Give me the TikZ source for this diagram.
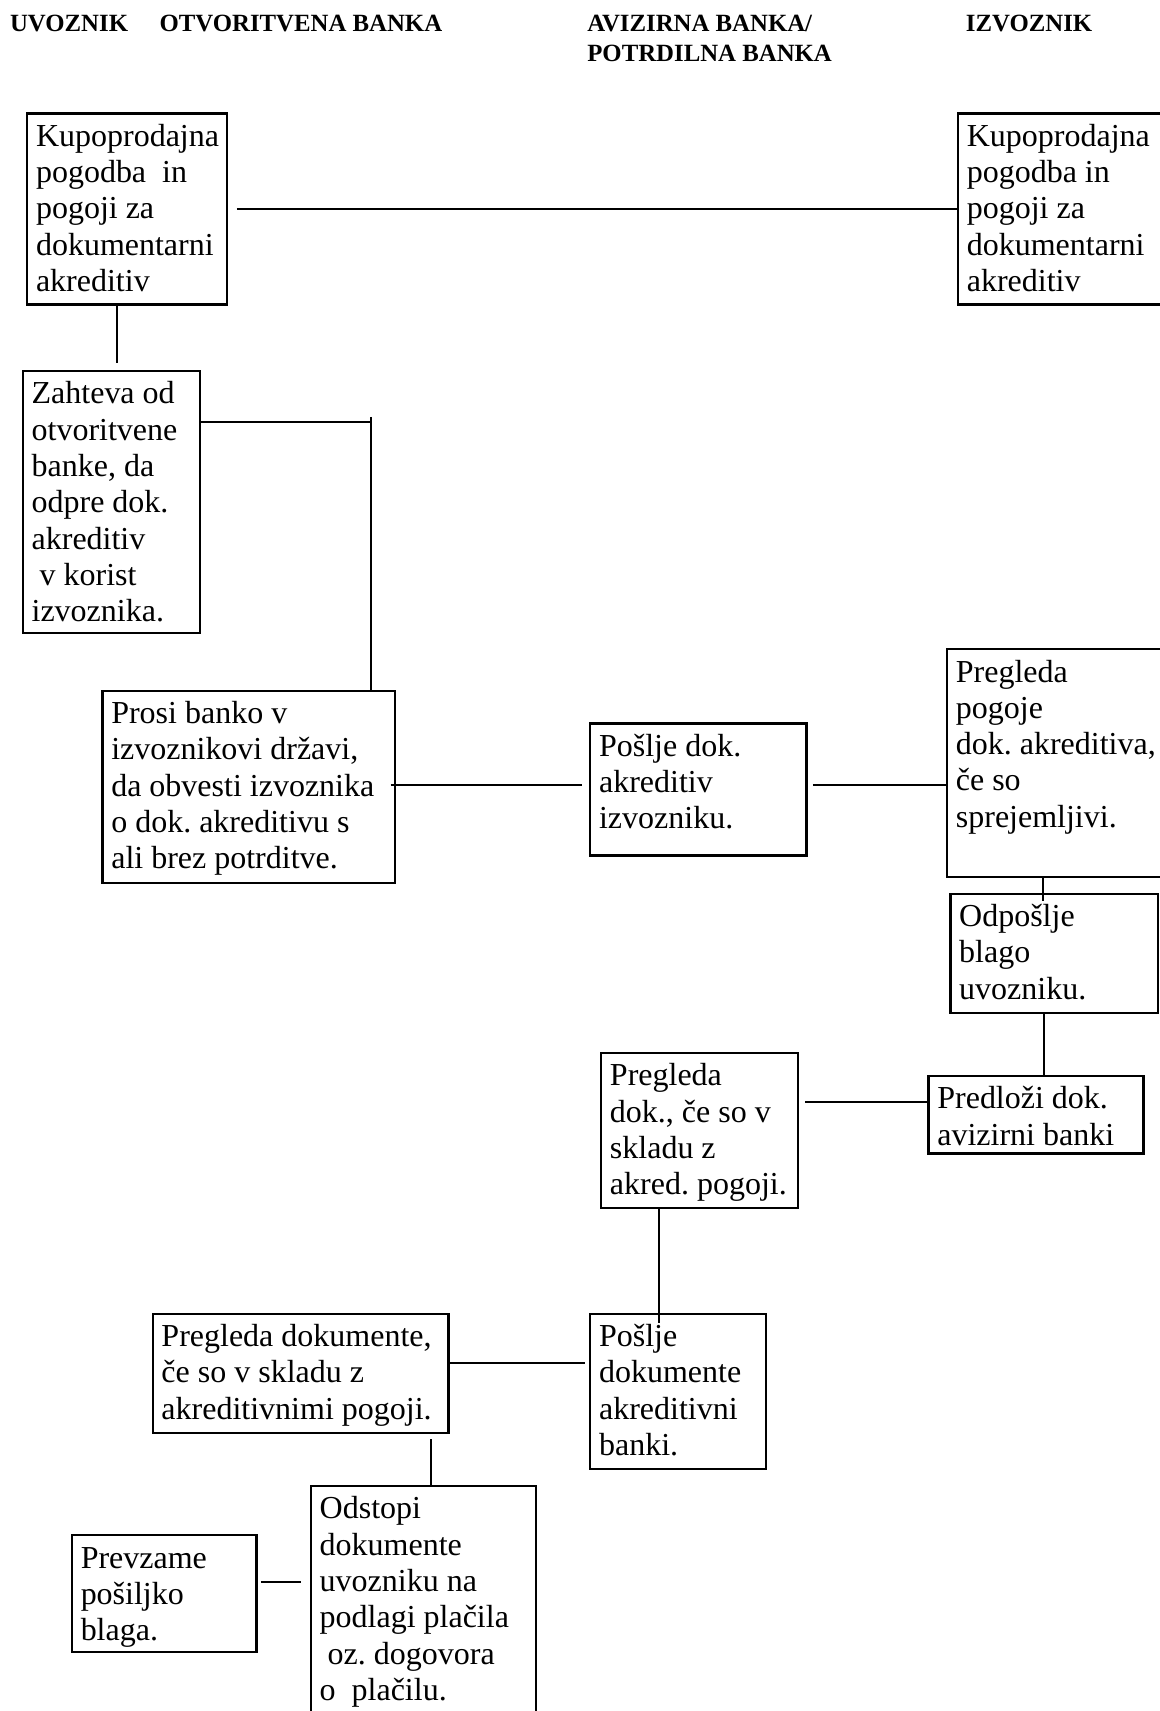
\documentclass[tikz,border=0pt]{standalone}
\usepackage{fontspec}
\setmainfont{Liberation Serif}
\usetikzlibrary{calc}
\frenchspacing
\newdimen\upx \upx=0.8185pt
\newcommand\bodyfont{\fontsize{24pt}{27.25pt}\selectfont\frenchspacing}
\newcommand\headfont{\fontsize{18.6pt}{21.5pt}\selectfont\bfseries}
\newcommand\boxtext[3]{\parbox[t][#2\upx][t]{#1\upx}{\parindent=0pt\leftskip=8\upx\rightskip=0pt plus 1fil\relax\rule{0pt}{30\upx}#3\par}}
\tikzset{
  bx/.style={draw, line width=1.7pt, inner sep=0pt, outer sep=0pt, anchor=north west, font=\bodyfont},
  hd/.style={inner sep=0pt, anchor=base west, font=\headfont},
  ln/.style={line width=1.4pt},
}
\begin{document}
\begin{tikzpicture}[x=0.8185pt, y=-0.8185pt]
\useasboundingbox (0,0) rectangle (1063,1568);
\clip (0,0) rectangle (1063,1568);
% headers
\node[hd] (h1) at (9,29) {UVOZNIK};
\node[hd] (h2) at (146,29) {OTVORITVENA BANKA};
\node[hd] (h3) at (538,29) {\parbox[t]{260\upx}{\baselineskip=27.5\upx AVIZIRNA BANKA/\\POTRDILNA BANKA}};
\node[hd] (h4) at (885,29) {IZVOZNIK};
% boxes
\node[bx] (A) at (25,104) {\boxtext{183}{175}{Kupoprodajna\\pogodba\ \ in\\pogoji za\\dokumentarni\\akreditiv}};
\node[bx] (B) at (878,104) {\boxtext{188}{175}{Kupoprodajna\\pogodba in\\pogoji za\\dokumentarni\\akreditiv}};
\node[bx] (C) at (21,340) {\boxtext{162}{240}{Zahteva od\\otvoritvene\\banke, da\\odpre dok.\\akreditiv\\\hspace*{.25em}v korist\\izvoznika.}};
\node[bx] (D) at (94,633) {\boxtext{268}{176}{Prosi banko v\\izvoznikovi državi,\\da obvesti izvoznika\\o dok. akreditivu s\\ali brez potrditve.}};
\node[bx] (E) at (541,663) {\boxtext{198}{121}{Pošlje dok.\\akreditiv\\izvozniku.}};
\node[bx] (F) at (868,595) {\boxtext{198}{209}{Pregleda\\pogoje\\dok. akreditiva,\\če so\\sprejemljivi.}};
\node[bx] (G) at (871,819) {\boxtext{190}{109}{Odpošlje\\blago\\uvozniku.}};
\node[bx] (H) at (851,986) {\boxtext{197}{71}{Predloži dok.\\avizirni banki}};
\node[bx] (I) at (551,965) {\boxtext{180}{142}{Pregleda\\dok., če so v\\skladu z\\akred. pogoji.}};
\node[bx] (J) at (541,1204) {\boxtext{161}{142}{Pošlje\\dokumente\\akreditivni\\banki.}};
\node[bx] (K) at (140,1204) {\boxtext{271}{109}{Pregleda dokumente,\\če so v skladu z\\akreditivnimi pogoji.}};
\node[bx] (L) at (285,1362) {\boxtext{206}{215}{Odstopi\\dokumente\\uvozniku na\\podlagi plačila\\\hspace*{.25em}oz. dogovora\\o\ \ plačilu.}};
\node[bx] (M) at (66,1407) {\boxtext{169}{107}{Prevzame\\pošiljko\\blaga.}};
% connectors
\draw[ln] ($(A.east)+(9,0)$) -- (B.west);
\draw[ln] ($(A.south west)+(82.5,0)$) -- ($(C.north west)+(86.5,-7)$);
\coordinate (cd) at ($(D.north west)+(246,-246)$);
\draw[ln] ($(C.north east)+(0,47)$) -- (cd);
\draw[ln] ($(cd)+(0,-5)$) -- (cd |- D.north);
\draw[ln] ($(D.north east)+(-4,86)$) -- ($(E.west |- D.north east)+(-8,86)$);
\draw[ln] ($(E.north east)+(6,56)$) -- ($(F.west |- E.north east)+(0,56)$);
\draw[ln] ($(F.south west)+(88,0)$) -- ($(G.north west)+(85,7)$);
\draw[ln] ($(G.south west)+(86,0)$) -- ($(H.north west)+(106,0)$);
\draw[ln] ($(I.north east)+(7,45)$) -- ($(H.north west)+(0,24)$);
\draw[ln] ($(I.south west)+(53,0)$) -- ($(J.north west)+(63,8)$);
\draw[ln] ($(K.north east)+(0,45)$) -- ($(J.north west)+(-5,45)$);
\draw[ln] ($(K.south west)+(255,6)$) -- ($(L.north west)+(110,0)$);
\draw[ln] ($(M.north east)+(4,43)$) -- ($(L.north west)+(-9,88)$);
\end{tikzpicture}
\end{document}
